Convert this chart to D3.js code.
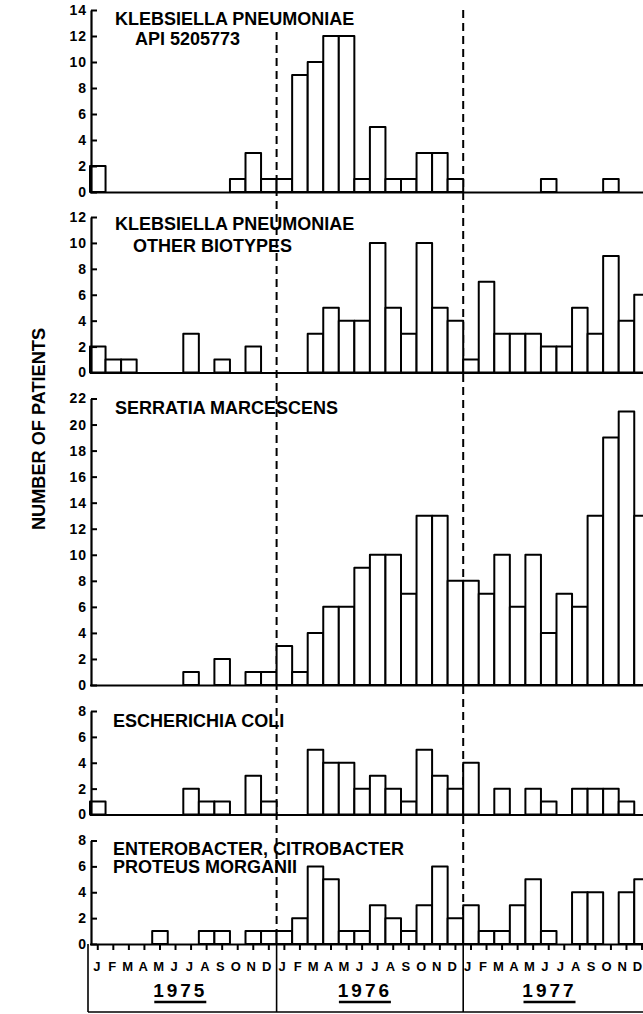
<!DOCTYPE html>
<html>
<head>
<meta charset="utf-8">
<script src="https://cdn.jsdelivr.net/npm/d3@7/dist/d3.min.js"></script>
<style>
  html, body { margin: 0; padding: 0; background: #fff; }
  svg { display: block; }
  text { font-family: "Liberation Sans", Arial, sans-serif; font-weight: bold; fill: #000; }
</style>
</head>
<body>
<svg id="chart" width="643" height="1014"></svg>
<script>
// ---- data ----
const monthLabels = ["J","F","M","A","M","J","J","A","S","O","N","D"];
const years = ["1975","1976","1977"];

// monthly counts Jan 1975 .. Dec 1977
const klebsiellaApi = [2,0,0,0,0,0,0,0,0,1,3,1, 1,9,10,12,12,1,5,1,1,3,3,1, 0,0,0,0,0,1,0,0,0,1,0,0];
const klebsiellaOther = [2,1,1,0,0,0,3,0,1,0,2,0, 0,0,3,5,4,4,10,5,3,10,5,4, 1,7,3,3,3,2,2,5,3,9,4,6];
const serratia = [0,0,0,0,0,0,1,0,2,0,1,1, 3,1,4,6,6,9,10,10,7,13,13,8, 8,7,10,6,10,4,7,6,13,19,21,13];
const ecoli = [1,0,0,0,0,0,2,1,1,0,3,1, 0,0,5,4,4,2,3,2,1,5,3,2, 4,0,2,0,2,1,0,2,2,2,1,0];
const enterobacter = [0,0,0,0,1,0,0,1,1,0,1,1, 1,2,6,5,1,1,3,2,1,3,6,2, 3,1,1,3,5,1,0,4,4,0,4,5];

const titles = [
  ["KLEBSIELLA PNEUMONIAE", "API 5205773"],
  ["KLEBSIELLA PNEUMONIAE", "OTHER BIOTYPES"],
  ["SERRATIA MARCESCENS"],
  ["ESCHERICHIA COLI"],
  ["ENTEROBACTER, CITROBACTER", "PROTEUS MORGANII"]
];
const yMaxes = [14, 12, 22, 8, 8];
const series = [klebsiellaApi, klebsiellaOther, serratia, ecoli, enterobacter];
const yLabel = "NUMBER OF PATIENTS";

// ---- layout ----
const svg = d3.select("#chart");
const x0 = 90, monthW = 15.55;
const nMonths = years.length * 12;
const monthIdx = d3.range(nMonths);
const x = d3.scaleBand().domain(monthIdx).range([x0, x0 + nMonths * monthW]).padding(0);

const baselines = [192, 372.5, 685, 814.5, 944];
const tops      = [10, 217, 398.5, 711, 840.5];
const titlePos = [
  [[115, 25], [135, 45]],
  [[115, 230], [133, 252]],
  [[115, 414]],
  [[113, 727]],
  [[113, 855], [113, 873]]
];

// dashed year separators (drawn first, under bars/text)
const dashStarts = [32, 10];
[12, 24].forEach((m, k) => {
  const xx = x(m);
  svg.append("line")
    .attr("x1", xx).attr("x2", xx)
    .attr("y1", dashStarts[k]).attr("y2", baselines[4])
    .attr("stroke", "#000").attr("stroke-width", 2)
    .attr("stroke-dasharray", "8,5");
  svg.append("line")
    .attr("x1", xx).attr("x2", xx)
    .attr("y1", baselines[4]).attr("y2", 1012)
    .attr("stroke", "#000").attr("stroke-width", 1.6);
});

series.forEach((vals, p) => {
  const y = d3.scaleLinear().domain([0, yMaxes[p]]).range([baselines[p], tops[p]]);
  const g = svg.append("g");

  // bars
  g.selectAll("rect")
    .data(vals.map((v, i) => ({ v, i })).filter(d => d.v > 0))
    .join("rect")
    .attr("x", d => x(d.i))
    .attr("width", x.bandwidth())
    .attr("y", d => y(d.v))
    .attr("height", d => y(0) - y(d.v))
    .attr("fill", "#fff")
    .attr("stroke", "#000")
    .attr("stroke-width", 2)
    .attr("stroke-linejoin", "round");

  // baseline (x axis)
  const xAxis = d3.axisBottom(x)
    .tickSizeOuter(0)
    .tickSizeInner(p === 4 ? 6 : 0)
    .tickPadding(p === 4 ? 12 : 0)
    .tickFormat(i => p === 4 ? monthLabels[i % 12] : "");
  const xa = g.append("g").attr("transform", `translate(0,${baselines[p]})`).call(xAxis);
  xa.select(".domain").attr("stroke", "#000").attr("stroke-width", 2.2)
    .attr("d", `M${x0},0.5H${x0 + nMonths * monthW + 5}`);
  xa.selectAll(".tick line").attr("stroke", "#000").attr("stroke-width", 2);
  xa.selectAll(".tick text").attr("font-size", 13).attr("fill", "#000")
    .attr("dx", i => -1 - i * 0.1);

  // y axis: ticks pointing inward
  const yAxis = d3.axisLeft(y)
    .tickValues(d3.range(0, yMaxes[p] + 1, 2))
    .tickSizeInner(-6)
    .tickSizeOuter(0)
    .tickPadding(4);
  const ya = g.append("g").attr("transform", `translate(${x0 + 1},0)`).call(yAxis);
  ya.select(".domain").attr("stroke", "#000").attr("stroke-width", 2.2);
  ya.selectAll(".tick line").attr("stroke", "#000").attr("stroke-width", 2);
  ya.selectAll(".tick text").attr("font-size", 14).attr("fill", "#000")
    .attr("font-family", "'Liberation Sans', Arial, sans-serif").attr("font-weight", "bold")
    .attr("letter-spacing", 1);

  // titles
  titles[p].forEach((t, k) => {
    g.append("text")
      .attr("x", titlePos[p][k][0]).attr("y", titlePos[p][k][1])
      .attr("font-size", 18)
      .text(t);
  });
});

// bottom box with year labels
const yearY = 997;
svg.append("line").attr("x1", 88).attr("x2", 88).attr("y1", baselines[4]).attr("y2", 1012)
  .attr("stroke", "#000").attr("stroke-width", 1.6);
svg.append("line").attr("x1", 88).attr("x2", 643).attr("y1", 1012).attr("y2", 1012)
  .attr("stroke", "#000").attr("stroke-width", 1.6);
years.forEach((yr, k) => {
  const cx = x(k * 12 + 6) - 3 - k * 2;
  svg.append("text")
    .attr("x", cx).attr("y", yearY)
    .attr("text-anchor", "middle")
    .attr("font-size", 19)
    .attr("letter-spacing", 3)
    .text(yr);
  svg.append("line")
    .attr("x1", cx - 26).attr("x2", cx + 26)
    .attr("y1", yearY + 5).attr("y2", yearY + 5)
    .attr("stroke", "#000").attr("stroke-width", 2.4);
});

// y label
svg.append("text")
  .attr("transform", "translate(45,429) rotate(-90)")
  .attr("text-anchor", "middle")
  .attr("font-size", 19)
  .attr("textLength", 202)
  .attr("lengthAdjust", "spacingAndGlyphs")
  .text(yLabel);
</script>
</body>
</html>
